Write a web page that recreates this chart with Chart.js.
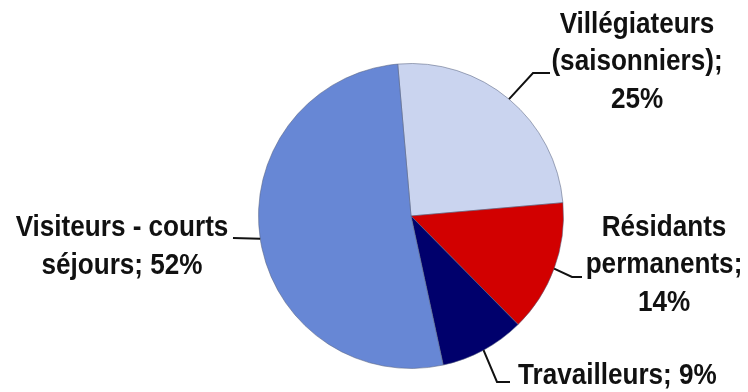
<!DOCTYPE html>
<html>
<head>
<meta charset="utf-8">
<script src="https://cdn.jsdelivr.net/npm/chart.js@4/dist/chart.umd.min.js"></script>
<style>
  html, body { margin: 0; padding: 0; background: #fff; }
  #wrap { width: 748px; height: 392px; }
</style>
</head>
<body>
<div id="wrap"><canvas id="pie" width="748" height="392"></canvas></div>
<script>
// data
var categories = ["Villégiateurs (saisonniers)", "Résidants permanents", "Travailleurs", "Visiteurs - courts séjours"]
var shares = [25, 14, 9, 52]
var labelLines = [
  ["Villégiateurs", "(saisonniers);", "25%"],
  ["Résidants", "permanents;", "14%"],
  ["Travailleurs; 9%"],
  ["Visiteurs - courts", "séjours; 52%"]
]
var sliceColors = ["#CAD4EF", "#D20000", "#00006C", "#6787D5"]

// where each label sits (offsets from the pie centre) and how its leader bends
var labelLayout = [
  { tx: 226, ty: -154, align: "center", elbow: [122, -143], end: [139, -143] },
  { tx: 253, ty: 49, align: "center", elbow: [161, 61], end: [171, 61] },
  { tx: 107, ty: 160, align: "left", elbow: [86, 166], end: [99, 166] },
  { tx: -289, ty: 31, align: "center", elbow: [-178, 22], end: [-178, 22] }
]
var fontFamily = '"Liberation Sans", Arial, sans-serif'
var squeeze = 0.9
var lineGap = 37.5

var calloutPlugin = {
  id: "callouts",
  afterDraw: function(chart) {
    var ctx = chart.ctx
    var arcs = chart.getDatasetMeta(0).data
    ctx.save()
    ctx.font = "bold 29px " + fontFamily
    ctx.fillStyle = "#111"
    ctx.strokeStyle = "#111"
    ctx.lineWidth = 2
    ctx.textBaseline = "middle"
    for (var i = 0; i < arcs.length; i++) {
      var a = arcs[i]
      var cx = a.x, cy = a.y
      var mid = (a.startAngle + a.endAngle) / 2
      var sx = cx + Math.cos(mid) * a.outerRadius
      var sy = cy + Math.sin(mid) * a.outerRadius
      var lay = labelLayout[i]
      ctx.beginPath()
      ctx.moveTo(sx, sy)
      ctx.lineTo(cx + lay.elbow[0], cy + lay.elbow[1])
      ctx.lineTo(cx + lay.end[0], cy + lay.end[1])
      ctx.stroke()
      var lines = labelLines[i]
      ctx.textAlign = lay.align
      for (var j = 0; j < lines.length; j++) {
        var y = cy + lay.ty + (j - (lines.length - 1) / 2) * lineGap
        ctx.save()
        ctx.translate(cx + lay.tx, y)
        ctx.scale(squeeze, 1)
        ctx.fillText(lines[j], 0, 0)
        ctx.restore()
      }
    }
    ctx.restore()
  }
}

new Chart("pie", {
  type: "pie",
  data: {
    labels: categories,
    datasets: [
      {
        data: shares,
        backgroundColor: sliceColors,
        borderColor: "rgba(90,100,130,0.55)",
        borderWidth: 1,
      },
    ],
  },
  options: {
    responsive: false,
    animation: false,
    rotation: -5,
    layout: {
      padding: { left: 258, right: 184, top: 63, bottom: 23 },
    },
    plugins: {
      legend: { display: false },
      tooltip: { enabled: false },
    },
  },
  plugins: [calloutPlugin],
});
</script>
</body>
</html>
